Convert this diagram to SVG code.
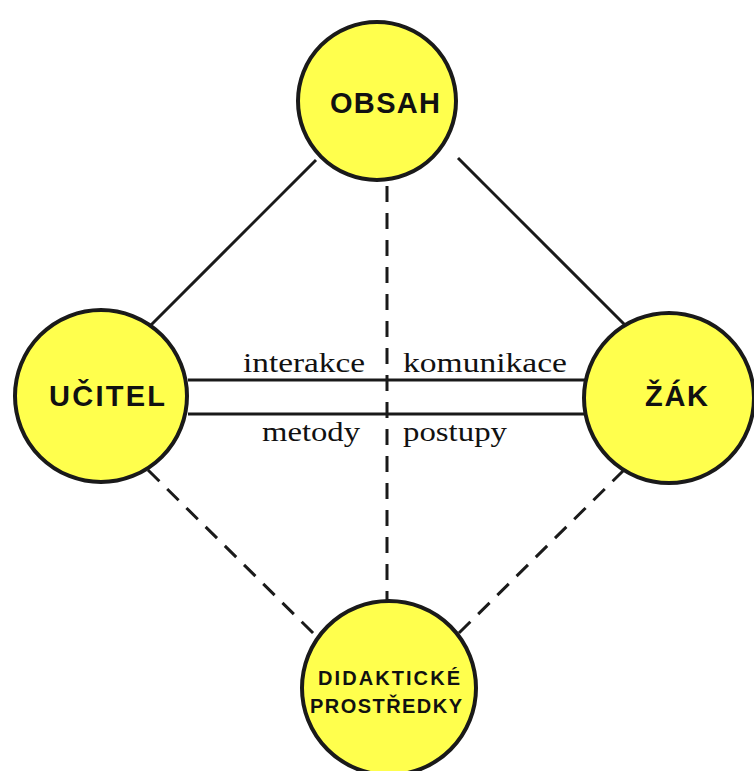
<svg xmlns="http://www.w3.org/2000/svg" width="754" height="771" viewBox="0 0 754 771">
  <style>
    .node { fill: #ffff4d; stroke: #1a1a1a; stroke-width: 4; }
    .solid { stroke: #1a1a1a; stroke-width: 3; fill: none; }
    .dash { stroke: #1a1a1a; stroke-width: 3; fill: none; stroke-dasharray: 16 11; }
    .title { font-family: "Liberation Sans", Arial, sans-serif; font-weight: bold; fill: #111; font-size: 29px; }
    .small { font-family: "Liberation Sans", Arial, sans-serif; font-weight: bold; fill: #111; font-size: 20px; }
    .lbl { font-family: "Liberation Serif", "Times New Roman", serif; fill: #111; font-size: 28px; }
  </style>
  <rect width="754" height="771" fill="#ffffff"/>

  <g id="connectors">
    <line class="solid" x1="316" y1="160" x2="150" y2="326"/>
    <line class="solid" x1="458" y1="158" x2="626" y2="326"/>
    <line class="solid" x1="188" y1="380" x2="588" y2="380"/>
    <line class="solid" x1="188" y1="414" x2="588" y2="414"/>
    <line class="dash" x1="387" y1="186" x2="387" y2="604"/>
    <line class="dash" x1="148" y1="470" x2="314" y2="634"/>
    <line class="dash" x1="624" y1="470" x2="458" y2="634"/>
    <text class="lbl" x="243" y="372" textLength="122" lengthAdjust="spacingAndGlyphs">interakce</text>
    <text class="lbl" x="403" y="372" textLength="164" lengthAdjust="spacingAndGlyphs">komunikace</text>
    <text class="lbl" x="262" y="441" textLength="98" lengthAdjust="spacingAndGlyphs">metody</text>
    <text class="lbl" x="403" y="441" textLength="104" lengthAdjust="spacingAndGlyphs">postupy</text>
  </g>

  <g id="obsah">
    <circle class="node" cx="377" cy="101" r="79"/>
    <text class="title" x="330" y="113" textLength="110">OBSAH</text>
  </g>

  <g id="ucitel">
    <circle class="node" cx="101" cy="396" r="86"/>
    <text class="title" x="49" y="406" textLength="116">UČITEL</text>
  </g>

  <g id="zak">
    <circle class="node" cx="669" cy="398" r="85"/>
    <text class="title" x="645" y="406" textLength="63">ŽÁK</text>
  </g>

  <g id="didakticke-prostredky">
    <circle class="node" cx="389" cy="688" r="87"/>
    <text class="small" x="318" y="685" textLength="142">DIDAKTICKÉ</text>
    <text class="small" x="310" y="713" textLength="152">PROSTŘEDKY</text>
  </g>
</svg>
